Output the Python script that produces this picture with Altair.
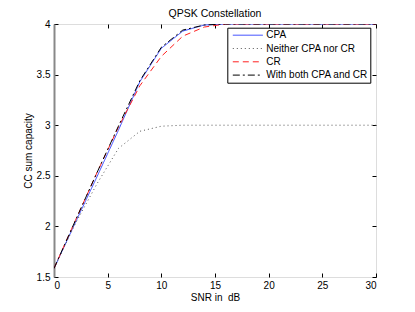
import altair as alt
import pandas as pd

snr = [0, 2, 4, 6, 8, 10, 12, 14, 16, 18, 20, 22, 24, 26, 28, 30]
cpa = [1.585, 2.04, 2.49, 2.95, 3.43, 3.76, 3.93, 3.99, 4.0, 4.0, 4.0, 4.0, 4.0, 4.0, 4.0, 4.0]
neither = [1.585, 2.03, 2.42, 2.77, 2.94, 2.99, 3.0, 3.0, 3.0, 3.0, 3.0, 3.0, 3.0, 3.0, 3.0, 3.0]
cr = [1.585, 2.06, 2.53, 2.98, 3.39, 3.68, 3.88, 3.97, 4.0, 4.0, 4.0, 4.0, 4.0, 4.0, 4.0, 4.0]
both = [1.585, 2.06, 2.53, 2.99, 3.44, 3.77, 3.94, 3.99, 4.0, 4.0, 4.0, 4.0, 4.0, 4.0, 4.0, 4.0]

series_names = ["CPA", "Neither CPA nor CR", "CR", "With both CPA and CR"]
series_colors = ["#3344ff", "#555555", "#ff2020", "#000000"]
series_dashes = [[1, 0], [1, 3], [6, 4], [7, 3, 2, 3]]

x_ticks = [0, 5, 10, 15, 20, 25, 30]
y_ticks = [1.5, 2, 2.5, 3, 3.5, 4]

rows = []
for name, vals in zip(series_names, [cpa, neither, cr, both]):
    for s, v in zip(snr, vals):
        rows.append({"snr": s, "cap": v, "series": name})
df = pd.DataFrame(rows)

FONT = "Liberation Sans"

xscale = alt.Scale(domain=[0, 30], nice=False, zero=False)
yscale = alt.Scale(domain=[1.5, 4], nice=False, zero=False)

legend_kw = dict(title=None, orient="none", legendX=173.3, legendY=3.7,
                 symbolType="M-3,0H3", symbolSize=100, symbolStrokeWidth=1,
                 symbolFillColor="transparent", symbolOffset=13,
                 labelFontSize=10, labelFont=FONT, labelColor="black",
                 strokeColor="black", fillColor="white", padding=2,
                 rowPadding=2.3, labelOffset=13, labelLimit=200)

lines = alt.Chart(df).mark_line(strokeWidth=1, clip=True).encode(
    x=alt.X("snr:Q", scale=xscale,
            axis=alt.Axis(orient="bottom", values=x_ticks, offset=-4, tickSize=4,
                          domain=False, grid=False, labelPadding=3,
                          title="SNR in\u00a0 dB", titlePadding=2, titleFontWeight="normal",
                          labelFontSize=10, titleFontSize=10, tickColor="black",
                          labelColor="black", titleColor="black", labelFont=FONT, titleFont=FONT)),
    y=alt.Y("cap:Q", scale=yscale,
            axis=alt.Axis(orient="left", values=y_ticks, offset=-4, tickSize=4,
                          domain=False, grid=False, labelPadding=4, format="~g",
                          title="CC sum capacity", titlePadding=3, titleFontWeight="normal",
                          labelFontSize=10, titleFontSize=10, tickColor="black",
                          labelColor="black", titleColor="black", labelFont=FONT, titleFont=FONT)),
    color=alt.Color("series:N", sort=series_names,
                    scale=alt.Scale(domain=series_names, range=series_colors),
                    legend=alt.Legend(**legend_kw)),
    strokeDash=alt.StrokeDash("series:N", sort=series_names,
                              scale=alt.Scale(domain=series_names, range=series_dashes),
                              legend=alt.Legend(**legend_kw)),
    detail="series:N",
)

frame = alt.Chart(df).mark_line(opacity=0).encode(
    x=alt.X("snr:Q", scale=xscale,
            axis=alt.Axis(orient="top", values=x_ticks, offset=-4, tickSize=4, labels=False,
                          domain=False, grid=False, title=None, tickColor="black")),
    y=alt.Y("cap:Q", scale=yscale,
            axis=alt.Axis(orient="right", values=y_ticks, offset=-4, tickSize=4, labels=False,
                          domain=False, grid=False, title=None, tickColor="black")),
    detail="series:N",
)

leftline = alt.Chart(df).mark_line(opacity=0).encode(
    x=alt.X("snr:Q", scale=xscale, axis=None),
    y=alt.Y("cap:Q", scale=yscale,
            axis=alt.Axis(orient="left", values=y_ticks, ticks=False, labels=False,
                          domain=True, domainColor="#888888", domainWidth=2,
                          grid=False, title=None)),
    detail="series:N",
)

chart = alt.layer(lines, frame, leftline).resolve_axis(
    x="independent", y="independent"
).properties(
    width=322,
    height=253,
    autosize=alt.AutoSizeParams(type="none"),
    padding={"left": 46, "top": 16, "right": 31, "bottom": 27},
    title=alt.Title("QPSK Constellation", fontSize=10.5, fontWeight="normal", font=FONT,
                    color="black", offset=0),
).configure_view(stroke="black", strokeWidth=1).configure(background="white")

chart.save("out.html", embed_options={"renderer": "svg", "actions": False})
